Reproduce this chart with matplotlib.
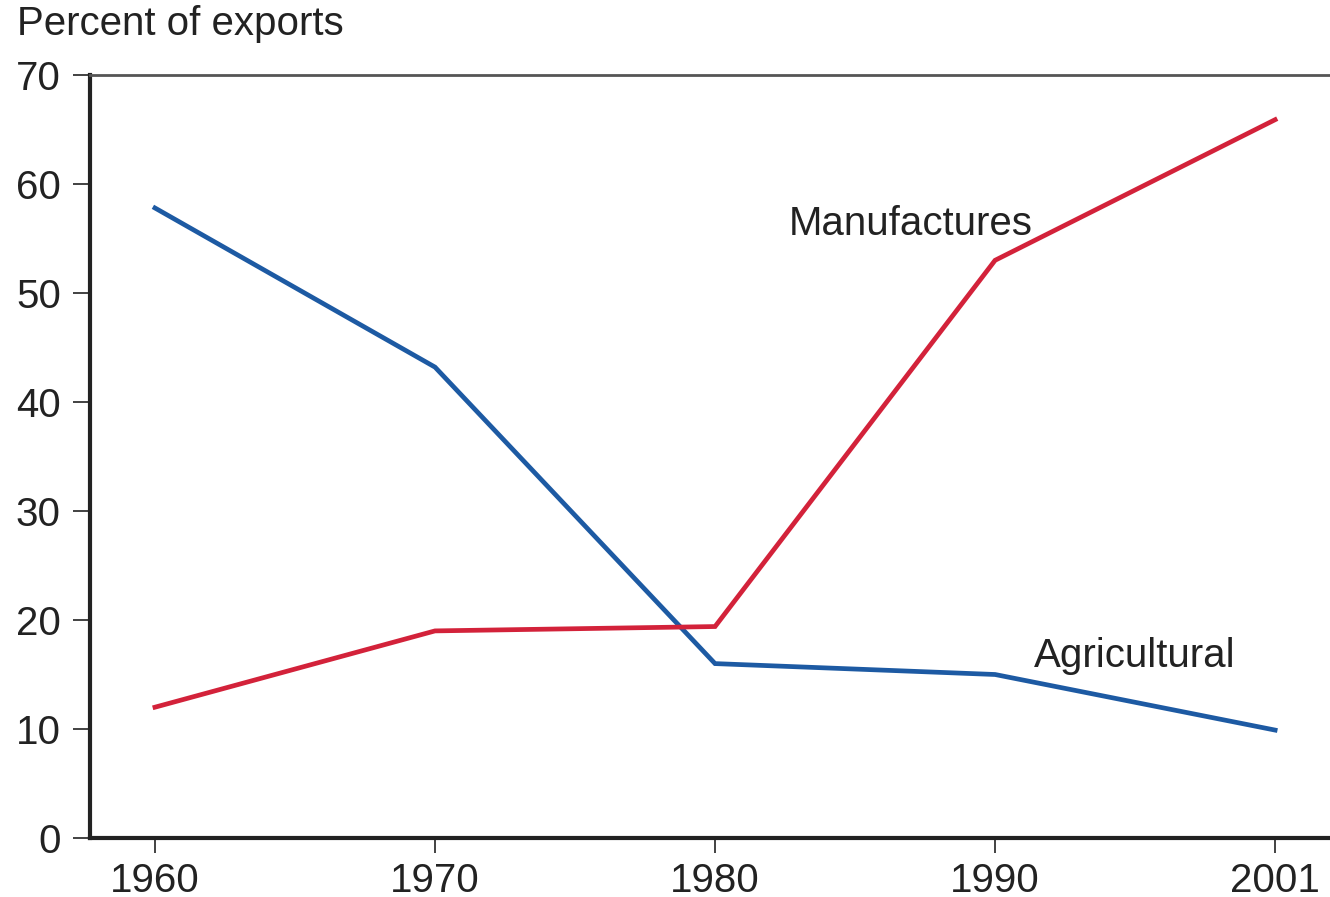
import matplotlib
matplotlib.use('Agg')
import matplotlib.pyplot as plt
import numpy as np

plt.rcParams['font.family'] = ['Liberation Sans', 'DejaVu Sans']

years = ['1960', '1970', '1980', '1990', '2001']
agricultural = [57.8, 43.2, 16.0, 15.0, 9.9]
manufactures = [12.0, 19.0, 19.4, 53.0, 65.9]

red = '#d3223a'
blue = '#1d5aa3'
ink = '#222222'

fig = plt.figure(figsize=(13.3, 8.97), dpi=100)
ax = fig.add_axes([90 / 1330, 1 - 838 / 897, 1 - 90 / 1330, (838 - 75) / 897])

x = np.arange(len(years))
ax.plot(x, agricultural, color=blue, lw=3.4, solid_joinstyle='miter')
ax.plot(x, manufactures, color=red, lw=3.4, solid_joinstyle='miter')

ax.set_xlim(-0.232, 4.196)
ax.set_ylim(0, 70)
ax.set_xticks(x)
ax.set_xticklabels(years)
ax.set_yticks(range(0, 71, 10))

ax.spines['right'].set_visible(False)
ax.spines['left'].set_linewidth(3)
ax.spines['bottom'].set_linewidth(3)
ax.spines['left'].set_color(ink)
ax.spines['bottom'].set_color(ink)
ax.spines['top'].set_linewidth(2)
ax.spines['top'].set_color('#555555')

ax.tick_params(axis='y', length=12, width=1.2, pad=9, labelsize=29, colors=ink)
ax.tick_params(axis='x', length=11, width=1.2, pad=6, labelsize=29, colors=ink)

ax.text(2.7, 56.3, 'Manufactures', fontsize=29, color=ink, ha='center', va='center')
ax.text(3.5, 16.7, 'Agricultural', fontsize=29, color=ink, ha='center', va='center')

fig.text(17 / 1330, 1 - 24 / 897, 'Percent of exports', fontsize=29, color=ink,
         ha='left', va='center')

fig.savefig('out.png', dpi=100)
